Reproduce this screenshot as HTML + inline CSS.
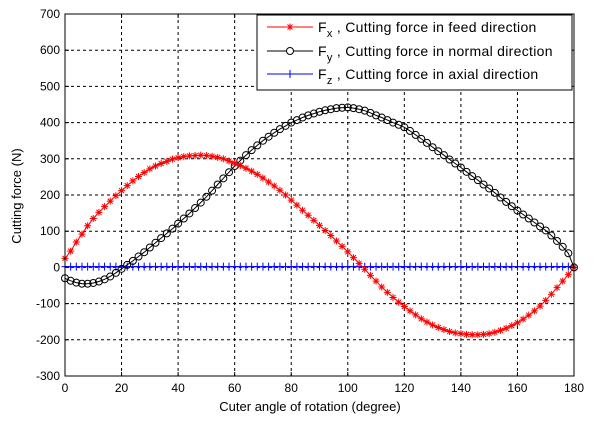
<!DOCTYPE html>
<html><head><meta charset="utf-8"><style>
html,body{margin:0;padding:0;background:#fff;}
svg{display:block;font-family:"Liberation Sans",Arial,sans-serif;}
</style></head><body>
<svg id="chart" width="600" height="421" viewBox="0 0 600 421">
<rect x="0" y="0" width="600" height="421" fill="#fff"/>
<g id="grid"></g>
<g id="series"></g>
<g id="axes"></g>
<text x="310" y="411" font-size="13" text-anchor="middle">Cuter angle of rotation (degree)</text>
<text x="21" y="196" font-size="13" text-anchor="middle" transform="rotate(-90 21 196)">Cutting force (N)</text>
<g>
<rect x="257" y="15" width="315" height="75" fill="#fff" stroke="#000" stroke-width="1"/>
<g>
<line x1="267" y1="27" x2="313" y2="27" stroke="#f00"/>
<path d="M286.5,27H293.5M290,23.5V30.5M287.5,24.5L292.5,29.5M287.5,29.5L292.5,24.5" stroke="#f00"/>
<text x="318" y="32" font-size="14" letter-spacing="0.3">F<tspan font-size="11" dy="5">x</tspan><tspan dy="-5" font-size="14"> ,  Cutting force in feed direction</tspan></text>
</g>
<g>
<line x1="267" y1="51" x2="313" y2="51" stroke="#000"/>
<circle cx="290" cy="51" r="3.5" fill="#fff" stroke="#000"/>
<text x="318" y="56" font-size="14" letter-spacing="0.3">F<tspan font-size="11" dy="5">y</tspan><tspan dy="-5" font-size="14"> ,  Cutting force in normal direction</tspan></text>
</g>
<g>
<line x1="267" y1="74" x2="313" y2="74" stroke="#00f"/>
<line x1="290" y1="70" x2="290" y2="78" stroke="#00f"/>
<text x="318" y="79" font-size="14" letter-spacing="0.3">F<tspan font-size="11" dy="5">z</tspan><tspan dy="-5" font-size="14"> ,  Cutting force in axial direction</tspan></text>
</g>
</g>
</svg>
<script>
const angles = [];
for (let a = 0; a <= 180; a += 2) angles.push(a);
const fxValues = [25,45,70,92,115,135,152,168,183,198,212,226,239,251,262,272,280,287,293,299,303,306,308,309,310,309,307,304,300,294,288,281,274,266,257,247,236,225,213,200,186,172,158,144,130,116,102,88,73,58,43,27,11,-5,-22,-38,-54,-69,-83,-96,-108,-120,-131,-142,-151,-159,-166,-172,-177,-181,-183,-185,-186,-186,-185,-183,-179,-174,-168,-161,-153,-143,-132,-120,-107,-91,-74,-56,-38,-20,0];
const fyValues = [-30,-37,-42,-45,-45,-43,-39,-33,-25,-15,-4,7,18,30,42,55,68,81,94,107,121,135,149,164,179,195,212,229,246,263,280,295,310,324,337,350,361,372,382,391,400,407,414,420,425,430,434,437,440,441,442,440,437,433,427,420,414,407,400,394,387,377,366,355,344,332,321,310,298,287,276,264,252,241,229,218,206,193,181,169,157,146,135,124,113,102,88,73,57,39,0];
const fzValues = [2,2,2,2,2,2,2,2,2,2,2,2,2,2,2,2,2,2,2,2,2,2,2,2,2,2,2,2,2,2,2,2,2,2,2,2,2,2,2,2,2,2,2,2,2,2,2,2,2,2,2,2,2,2,2,2,2,2,2,2,2,2,2,2,2,2,2,2,2,2,2,2,2,2,2,2,2,2,2,2,2,2,2,2,2,2,2,2,2,2,0];
const xTicks = [0,20,40,60,80,100,120,140,160,180];
const yTicks = [-300,-200,-100,0,100,200,300,400,500,600,700];

const L=65,R=574,T=14,B=376;
const xs = v => L + (v-0)/(180)*(R-L);
const ys = v => B - (v+300)/1000*(B-T);
const NS="http://www.w3.org/2000/svg";
function mk(tag, attrs, parent){const e=document.createElementNS(NS,tag);for(const k in attrs)e.setAttribute(k,attrs[k]);parent.appendChild(e);return e;}
const grid=document.getElementById('grid'), axes=document.getElementById('axes'), ser=document.getElementById('series');

xTicks.forEach(t=>{
  const x=xs(t);
  if(t>0&&t<180){const g=mk('line',{x1:x,y1:T,x2:x,y2:B,stroke:'#000','stroke-dasharray':'3,3','stroke-width':1},grid);
  
  }
  mk('line',{x1:x,y1:B,x2:x,y2:B-4,stroke:'#000'},axes);
  mk('line',{x1:x,y1:T,x2:x,y2:T+4,stroke:'#000'},axes);
  const tx=mk('text',{x:x,y:B+16,'font-size':12,'text-anchor':'middle'},axes);
  tx.textContent=t;
  
  
});
yTicks.forEach(t=>{
  const y=ys(t);
  if(t>-300&&t<700){const g=mk('line',{x1:L,y1:y,x2:R,y2:y,stroke:'#000','stroke-dasharray':'3,3','stroke-width':1},grid);
  
  }
  mk('line',{x1:L,y1:y,x2:L+4,y2:y,stroke:'#000'},axes);
  mk('line',{x1:R,y1:y,x2:R-4,y2:y,stroke:'#000'},axes);
  const tx=mk('text',{x:L-5,y:y+4,'font-size':12,'text-anchor':'end'},axes);
  tx.textContent=t;
  
  
});
const frame=mk('rect',{x:L,y:T,width:R-L,height:B-T,fill:'none',stroke:'#000','stroke-width':1},axes);



function drawSeries(vals,color,marker,name){
  const g=mk('g',{},ser);
  
  
  const pts=vals.map((v,i)=>xs(angles[i]).toFixed(1)+','+ys(v).toFixed(1)).join(' ');
  mk('polyline',{points:pts,fill:'none',stroke:color,'stroke-width':1},g);
  vals.forEach((v,i)=>{
    const x=xs(angles[i]),y=ys(v);
    if(marker==='star'){
      mk('path',{d:`M${x-3.5},${y}H${x+3.5}M${x},${y-3.5}V${y+3.5}M${x-2.5},${y-2.5}L${x+2.5},${y+2.5}M${x-2.5},${y+2.5}L${x+2.5},${y-2.5}`,stroke:color,'stroke-width':1},g);
    } else if(marker==='circle'){
      mk('circle',{cx:x,cy:y,r:3.5,fill:'none',stroke:color,'stroke-width':1},g);
    } else {
      mk('path',{d:`M${x-3.5},${y}H${x+3.5}M${x},${y-4}V${y+4}`,stroke:color,'stroke-width':1},g);
    }
  });
}
drawSeries(fzValues,'#00f','plus','series-fz');
drawSeries(fyValues,'#000','circle','series-fy');
drawSeries(fxValues,'#f00','star','series-fx');
</script>
</body></html>
